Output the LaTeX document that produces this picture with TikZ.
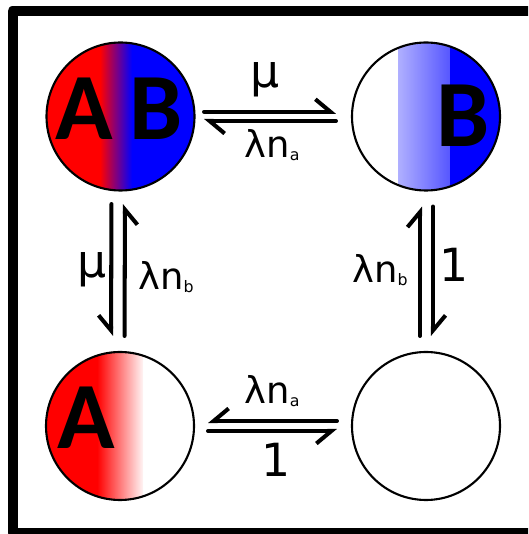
\documentclass[tikz,border=0pt]{standalone}
\usepackage{fontspec}
\setmainfont{DejaVu Sans}
\newfontfamily\letterfont{Carlito}
\usetikzlibrary{arrows.meta}

\newcommand{\sub}[1]{\raisebox{-1.5pt}{\fontsize{9}{9}\selectfont #1}}

\tikzset{
  site/.style={circle, draw, line width=1.2pt, minimum size=2.96cm, inner sep=0pt},
  letter/.style={font=\letterfont\fontsize{54}{54}\selectfont\bfseries},
  rate/.style={font=\fontsize{26}{26}\selectfont},
  ratel/.style={font=\fontsize{21}{21}\selectfont},
  rxn/.style={line width=2.3pt, line cap=round},
  harpL/.style={-{Straight Barb[harpoon, length=0.3cm, width=0.5cm]}},
  harpR/.style={-{Straight Barb[harpoon, swap, length=0.3cm, width=0.5cm]}},
}

\begin{document}
\begin{tikzpicture}[line join=round]
  \clip (0,0) rectangle (10.56,10.68);
  \draw[line width=0.2cm] (0.25,0.02) rectangle (11,10.46);

  % the four states
  \node[site, path picture={
    \fill[red] (path picture bounding box.south west) rectangle ([xshift=-0.41cm]path picture bounding box.north);
    \shade[left color=red, right color=blue] ([xshift=-0.41cm]path picture bounding box.south) rectangle ([xshift=0.23cm]path picture bounding box.north);
    \fill[blue] ([xshift=0.23cm]path picture bounding box.south) rectangle (path picture bounding box.north east);
  }] (ab) at (2.41,8.35) {};
  \node[site, path picture={
    \shade[left color=white, right color=blue] ([xshift=-0.56cm]path picture bounding box.south) rectangle ([xshift=0.48cm]path picture bounding box.north);
    \fill[blue] ([xshift=0.48cm]path picture bounding box.south) rectangle (path picture bounding box.north east);
  }] (b) at (8.52,8.35) {};
  \node[site, path picture={
    \fill[red] (path picture bounding box.south west) rectangle ([xshift=-0.46cm]path picture bounding box.north);
    \shade[left color=red, right color=red!4] ([xshift=-0.46cm]path picture bounding box.south) rectangle ([xshift=0.46cm]path picture bounding box.north);
  }] (a) at (2.40,2.16) {};
  \node[site] (o) at (8.52,2.16) {};

  \node[letter] (lA) at (1.68,8.5) {A};
  \node[letter] (lB) at (3.12,8.5) {B};
  \node[letter] (rB) at (9.26,8.36) {B};
  \node[letter] (bA) at (1.72,2.32) {A};

  % transitions
  \draw[rxn, harpL, shorten <=0.17cm, shorten >=0.30cm] ([yshift=0.095cm]ab.east) -- ([yshift=0.095cm]b.west);
  \draw[rxn, harpL, shorten <=0.30cm, shorten >=0.17cm] ([yshift=-0.09cm]b.west) -- ([yshift=-0.09cm]ab.east);

  \draw[rxn, harpR, shorten <=0.25cm, shorten >=0.30cm] ([xshift=-0.18cm]ab.south) -- ([xshift=-0.18cm]a.north);
  \draw[rxn, harpR, shorten <=0.30cm, shorten >=0.25cm] ([xshift=0.09cm]a.north) -- ([xshift=0.09cm]ab.south);

  \draw[rxn, harpL, shorten <=0.30cm, shorten >=0.30cm] ([xshift=-0.12cm]o.north) -- ([xshift=-0.12cm]b.south);
  \draw[rxn, harpL, shorten <=0.30cm, shorten >=0.30cm] ([xshift=0.14cm]b.south) -- ([xshift=0.14cm]o.north);

  \draw[rxn, harpR, shorten <=0.28cm, shorten >=0.26cm] ([yshift=0.10cm]o.west) -- ([yshift=0.10cm]a.east);
  \draw[rxn, harpR, shorten <=0.26cm, shorten >=0.28cm] ([yshift=-0.10cm]a.east) -- ([yshift=-0.10cm]o.west);

  % rates
  \node[rate] (muTop) at (5.3,9.08) {μ};
  \node[ratel] (lamTop) at (5.44,7.78) {λn\sub{a}};
  \node[rate] (muLeft) at (1.85,5.29) {μ};
  \node[ratel] (lamLeft) at (3.32,5.14) {λn\sub{b}};
  \node[ratel] (lamRight) at (7.6,5.28) {λn\sub{b}};
  \node[rate] (oneRight) at (9.08,5.38) {1};
  \node[ratel] (lamBot) at (5.44,2.86) {λn\sub{a}};
  \node[rate] (oneBot) at (5.52,1.48) {1};
\end{tikzpicture}
\end{document}
